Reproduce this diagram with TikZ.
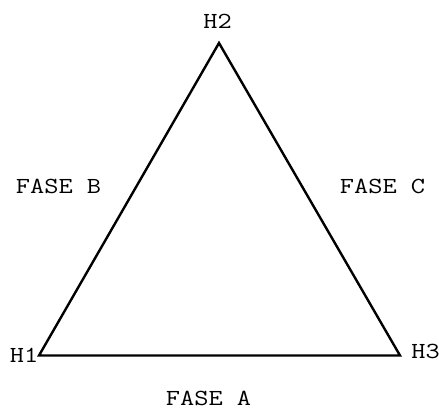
\documentclass[tikz,border=0pt]{standalone}
\usepackage{fontspec}
\setmonofont[FakeStretch=1.2]{Latin Modern Mono}
\usetikzlibrary{positioning}

\tikzset{
    lbl/.style={font=\ttfamily\fontsize{23}{23}\selectfont, inner sep=0pt, anchor=center}
}

\begin{document}
\begin{tikzpicture}[x=1pt, y=-1pt]

    % Page frame
    \useasboundingbox (0, 0) rectangle (439, 410);

    % Triangle corners
    \coordinate (h1) at (39, 355.5);
    \coordinate (h2) at (219, 43);
    \coordinate (h3) at (400, 355.5);

    % Triangle
    \draw[line width=2.4pt, line join=miter] (h1) -- (h2) -- (h3) -- cycle;

    % Corner labels
    \node[lbl] (lh2) at (217.5, 21.5) {H2};
    \node[lbl] (lh1) at (24, 355) {H1};
    \node[lbl] (lh3) at (425.5, 351.5) {H3};

    % Phase labels
    \node[lbl] (fb) at (58.5, 186.5) {FASE B};
    \node[lbl] (fc) at (382.5, 186.5) {FASE C};
    \node[lbl] (fa) at (208.5, 398) {FASE A};

\end{tikzpicture}
\end{document}
